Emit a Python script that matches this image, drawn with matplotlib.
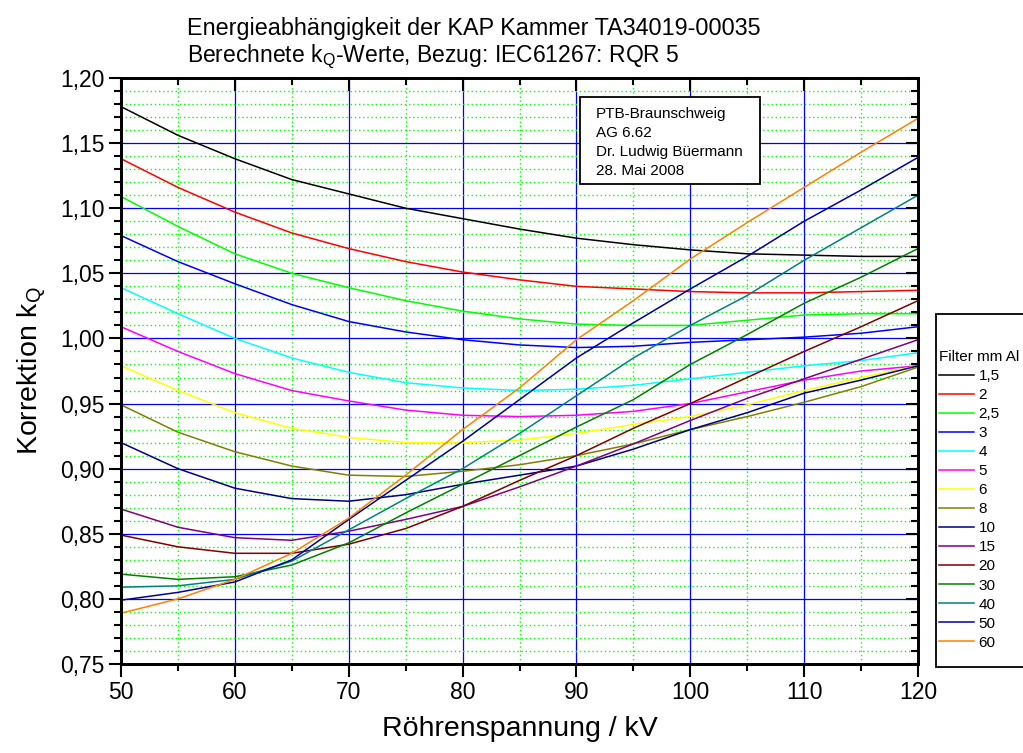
import matplotlib
matplotlib.use("Agg")
import matplotlib.pyplot as plt
from matplotlib.patches import Rectangle
from matplotlib.ticker import MultipleLocator
import numpy as np

plt.rcParams['font.family'] = ['Liberation Sans', 'DejaVu Sans']
plt.rcParams['mathtext.fontset'] = 'custom'
plt.rcParams['mathtext.rm'] = 'Liberation Sans'

# Roehrenspannung in kV
kv = [50, 55, 60, 65, 70, 75, 80, 85, 90, 95, 100, 105, 110, 115, 120]

# k_Q values per filter (mm Al)
kq_1_5 = [1.178, 1.156, 1.138, 1.122, 1.111, 1.100, 1.092, 1.084, 1.077, 1.072, 1.068, 1.065, 1.064, 1.063, 1.063]
kq_2 = [1.138, 1.116, 1.097, 1.081, 1.069, 1.059, 1.051, 1.045, 1.040, 1.038, 1.036, 1.035, 1.035, 1.036, 1.037]
kq_2_5 = [1.109, 1.086, 1.065, 1.050, 1.039, 1.029, 1.021, 1.015, 1.011, 1.010, 1.010, 1.014, 1.018, 1.019, 1.019]
kq_3 = [1.079, 1.059, 1.042, 1.026, 1.013, 1.005, 0.999, 0.995, 0.993, 0.994, 0.997, 0.999, 1.001, 1.004, 1.009]
kq_4 = [1.039, 1.019, 1.000, 0.985, 0.974, 0.966, 0.962, 0.960, 0.961, 0.964, 0.969, 0.974, 0.979, 0.983, 0.989]
kq_5 = [1.009, 0.990, 0.973, 0.960, 0.952, 0.945, 0.941, 0.940, 0.941, 0.944, 0.950, 0.959, 0.968, 0.975, 0.979]
kq_6 = [0.979, 0.960, 0.943, 0.931, 0.924, 0.920, 0.920, 0.922, 0.927, 0.934, 0.940, 0.949, 0.960, 0.970, 0.979]
kq_8 = [0.949, 0.928, 0.913, 0.902, 0.895, 0.894, 0.898, 0.903, 0.910, 0.919, 0.930, 0.940, 0.951, 0.963, 0.978]
kq_10 = [0.920, 0.900, 0.885, 0.877, 0.875, 0.880, 0.888, 0.895, 0.902, 0.915, 0.930, 0.943, 0.958, 0.968, 0.979]
kq_15 = [0.869, 0.855, 0.847, 0.845, 0.852, 0.861, 0.871, 0.886, 0.902, 0.919, 0.937, 0.954, 0.969, 0.984, 0.999]
kq_20 = [0.849, 0.840, 0.835, 0.835, 0.842, 0.854, 0.871, 0.891, 0.910, 0.931, 0.950, 0.970, 0.990, 1.009, 1.029]
kq_30 = [0.819, 0.815, 0.817, 0.826, 0.843, 0.866, 0.888, 0.910, 0.932, 0.953, 0.980, 1.003, 1.027, 1.047, 1.069]
kq_40 = [0.809, 0.810, 0.815, 0.829, 0.853, 0.877, 0.900, 0.927, 0.956, 0.985, 1.010, 1.033, 1.060, 1.085, 1.110]
kq_50 = [0.799, 0.805, 0.813, 0.830, 0.861, 0.891, 0.921, 0.953, 0.985, 1.012, 1.038, 1.063, 1.090, 1.114, 1.139]
kq_60 = [0.789, 0.800, 0.815, 0.835, 0.862, 0.895, 0.930, 0.962, 0.999, 1.029, 1.061, 1.089, 1.116, 1.143, 1.169]

filters = ['1,5', '2', '2,5', '3', '4', '5', '6', '8', '10', '15', '20', '30', '40', '50', '60']
colors = ['#000000', '#ff0000', '#00ff00', '#0000ff', '#00ffff', '#ff00ff', '#ffff00', '#808000',
          '#000080', '#800080', '#800000', '#008000', '#008080', '#0000a0', '#ff8000']
series = [kq_1_5, kq_2, kq_2_5, kq_3, kq_4, kq_5, kq_6, kq_8, kq_10, kq_15, kq_20, kq_30, kq_40, kq_50, kq_60]

fig = plt.figure(figsize=(10.23, 7.53), dpi=100)
ax = fig.add_axes([121 / 1023, 1 - 664 / 753, 797 / 1023, 586 / 753])

# grid: green dotted minor, blue solid major
ax.xaxis.set_major_locator(MultipleLocator(10))
ax.xaxis.set_minor_locator(MultipleLocator(5))
ax.yaxis.set_major_locator(MultipleLocator(0.05))
ax.yaxis.set_minor_locator(MultipleLocator(0.01))
ax.grid(which='minor', color='#00ff00', linestyle=(0, (1, 2)), linewidth=1.0)
ax.grid(which='major', color='#0000ff', linestyle='-', linewidth=0.9)
ax.set_axisbelow(True)

for vals, lab, col in zip(series, filters, colors):
    ax.plot(kv, vals, color=col, lw=1.1, label=lab)

ax.set_xlim(50, 120)
ax.set_ylim(0.75, 1.20)
ax.yaxis.set_major_formatter(lambda v, p: f'{v:.2f}'.replace('.', ','))

ax.tick_params(which='both', direction='out', width=1.5, labelsize=16.5, pad=3)
ax.tick_params(which='major', length=9)
ax.tick_params(which='minor', length=5)
for s in ax.spines.values():
    s.set_linewidth(1.8)

# mirrored ticks pointing inward on top and right (twin axes)
axt = ax.twiny()
axt.set_xlim(50, 120)
axt.xaxis.set_major_locator(MultipleLocator(10))
axt.xaxis.set_minor_locator(MultipleLocator(5))
axt.tick_params(which='both', direction='in', width=1.5, labeltop=False)
axt.tick_params(which='major', length=9)
axt.tick_params(which='minor', length=5)
axr = ax.twinx()
axr.set_ylim(0.75, 1.20)
axr.yaxis.set_major_locator(MultipleLocator(0.05))
axr.yaxis.set_minor_locator(MultipleLocator(0.01))
axr.tick_params(which='both', direction='in', width=1.5, labelright=False)
axr.tick_params(which='major', length=9)
axr.tick_params(which='minor', length=5)
for a in (axt, axr):
    for s in a.spines.values():
        s.set_linewidth(1.8)

ax.set_xlabel('Röhrenspannung / kV', fontsize=20.5, labelpad=9)
ax.set_ylabel(r'Korrektion k$_\mathregular{Q}$', fontsize=20.5, labelpad=8)

fig.text(187 / 1023, 1 - 35 / 753, 'Energieabhängigkeit der KAP Kammer TA34019-00035', fontsize=16.8, va='baseline')
fig.text(187 / 1023, 1 - 62 / 753, r'Berechnete k$_\mathregular{Q}$-Werte, Bezug: IEC61267: RQR 5', fontsize=16.5, va='baseline')

# info box
axr.add_patch(Rectangle((0.576, 0.819), 0.2258, 0.1486, transform=ax.transAxes,
                        facecolor='white', edgecolor='black', lw=1.3, zorder=5))
axr.text(0.596, 0.951, 'PTB-Braunschweig\nAG 6.62\nDr. Ludwig Büermann\n28. Mai 2008',
         transform=ax.transAxes, fontsize=11, va='top', ha='left', linespacing=1.45, zorder=6)

# legend box (runs off the right edge)
fig.patches.append(Rectangle((936 / 1023, 1 - 667 / 753), 100 / 1023, 353 / 753,
                             transform=fig.transFigure, facecolor='white', edgecolor='black', lw=1.3))
handles, labels = ax.get_legend_handles_labels()
leg = fig.legend(handles, labels, title='Filter mm Al', loc='upper left',
                 bbox_to_anchor=(939 / 1023, 1 - 350 / 753), bbox_transform=fig.transFigure,
                 frameon=False, fontsize=11, title_fontsize=11, alignment='left',
                 handlelength=2.3, handletextpad=0.3, labelspacing=0.33,
                 borderpad=0, borderaxespad=0)

fig.savefig('out.png', dpi=100)
